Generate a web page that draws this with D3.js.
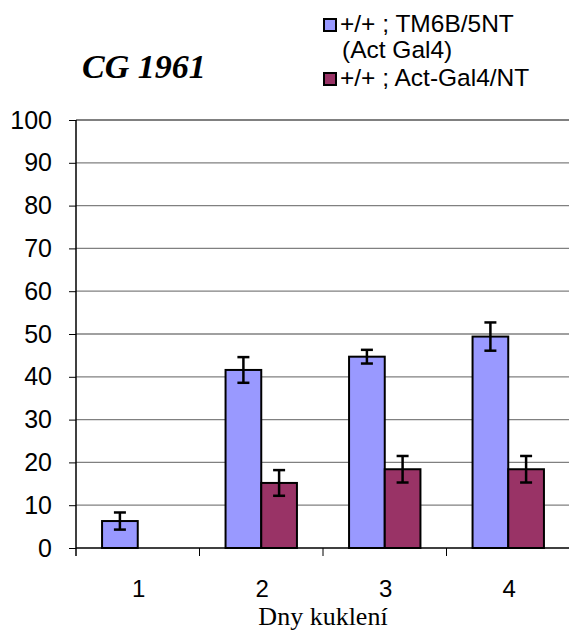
<!DOCTYPE html>
<html>
<head>
<meta charset="utf-8">
<script src="https://cdn.jsdelivr.net/npm/d3@7"></script>
<style>
  body { margin: 0; background: #fff; }
  svg { display: block; }
</style>
</head>
<body>
<div id="chart"></div>
<script>
// data
var days = ["1", "2", "3", "4"];
var seriesNames = ["+/+ ; TM6B/5NT", "+/+ ; Act-Gal4/NT"];
var seriesSub = ["(Act Gal4)", ""];
var controlVals = [6.3, 41.6, 44.7, 49.4];
var controlErr = [2.0, 3.0, 1.6, 3.3];
var mutantVals = [null, 15.2, 18.4, 18.4];
var mutantErr = [null, 3.0, 3.1, 3.1];
var yTicks = [0, 10, 20, 30, 40, 50, 60, 70, 80, 90, 100];
var colors = ["#9999ff", "#993366"];

var width = 569, height = 632;
var plotLeft = 76, plotRight = 570, plotTop = 120, plotBottom = 548;
var sans = "Liberation Sans, Arial, sans-serif";
var serif = "Liberation Serif, Times New Roman, serif";

var svg = d3.select("#chart").append("svg")
  .attr("width", width)
  .attr("height", height);

var y = d3.scaleLinear().domain([0, 100]).range([plotBottom, plotTop]);
var x = d3.scaleBand().domain(days).range([plotLeft, plotRight]).paddingInner(0).paddingOuter(0);
var xs = d3.scaleBand().domain([0, 1]).range([0, x.bandwidth()]).paddingInner(0).paddingOuter(0.73);

// gridlines
svg.append("g").selectAll("line")
  .data(yTicks.filter(function(d) { return d > 0; }))
  .enter().append("line")
  .attr("x1", plotLeft).attr("x2", plotRight)
  .attr("y1", function(d) { return y(d); })
  .attr("y2", function(d) { return y(d); })
  .attr("stroke", "#808080")
  .attr("stroke-width", function(d) { return d == 100 ? 2 : 1.3; });

// y axis
var yAxis = svg.append("g")
  .attr("transform", "translate(" + plotLeft + ",0)")
  .call(d3.axisLeft(y).tickValues(yTicks).tickSize(7).tickPadding(17));
yAxis.select(".domain").remove();
yAxis.selectAll("line").attr("stroke", "#000").attr("stroke-width", 1);
yAxis.selectAll("text")
  .attr("font-family", sans)
  .attr("font-size", 25)
  .attr("fill", "#000");
svg.append("line")
  .attr("x1", plotLeft).attr("x2", plotLeft)
  .attr("y1", plotTop).attr("y2", plotBottom + 8)
  .attr("stroke", "#000").attr("stroke-width", 1.5);

// x axis
svg.append("line")
  .attr("x1", plotLeft).attr("x2", plotRight)
  .attr("y1", plotBottom).attr("y2", plotBottom)
  .attr("stroke", "#000").attr("stroke-width", 1.5);
svg.append("g").selectAll("line")
  .data(days.slice(1))
  .enter().append("line")
  .attr("x1", function(d) { return x(d); })
  .attr("x2", function(d) { return x(d); })
  .attr("y1", plotBottom).attr("y2", plotBottom + 8)
  .attr("stroke", "#000").attr("stroke-width", 1);
svg.append("g").selectAll("text")
  .data(days)
  .enter().append("text")
  .attr("x", function(d) { return x(d) + x.bandwidth() / 2 + 1; })
  .attr("y", 597)
  .attr("text-anchor", "middle")
  .attr("font-family", sans)
  .attr("font-size", 24)
  .text(function(d) { return d; });

svg.append("text")
  .attr("x", 323).attr("y", 625)
  .attr("text-anchor", "middle")
  .attr("font-family", serif)
  .attr("font-size", 26)
  .text("Dny kuklení");

// bars
var rows = [];
days.forEach(function(d, i) {
  rows.push({ day: d, s: 0, v: controlVals[i], e: controlErr[i] });
  rows.push({ day: d, s: 1, v: mutantVals[i], e: mutantErr[i] });
});
rows = rows.filter(function(r) { return r.v != null; });

var bars = svg.append("g");
bars.selectAll("rect")
  .data(rows)
  .enter().append("rect")
  .attr("x", function(r) { return x(r.day) + xs(r.s); })
  .attr("width", xs.bandwidth())
  .attr("y", function(r) { return y(r.v); })
  .attr("height", function(r) { return y(0) - y(r.v); })
  .attr("fill", function(r) { return colors[r.s]; })
  .attr("stroke", "#000")
  .attr("stroke-width", 2);

// error bars
var err = svg.append("g").attr("stroke", "#000").attr("stroke-width", 2.5);
rows.forEach(function(r) {
  var cx = x(r.day) + xs(r.s) + xs.bandwidth() / 2;
  err.append("line").attr("x1", cx).attr("x2", cx)
    .attr("y1", y(r.v + r.e)).attr("y2", y(r.v - r.e));
  [r.v + r.e, r.v - r.e].forEach(function(v) {
    err.append("line").attr("x1", cx - 6).attr("x2", cx + 6)
      .attr("y1", y(v)).attr("y2", y(v));
  });
});

// title
svg.append("text")
  .attr("x", 82).attr("y", 78)
  .attr("font-family", serif)
  .attr("font-size", 34)
  .attr("font-weight", "bold")
  .attr("font-style", "italic")
  .text("CG 1961");

// legend
var legY = [18, 72];
seriesNames.forEach(function(name, i) {
  svg.append("rect")
    .attr("x", 324).attr("y", legY[i] + 1)
    .attr("width", 12).attr("height", 12)
    .attr("fill", colors[i])
    .attr("stroke", "#000").attr("stroke-width", 2);
  svg.append("text")
    .attr("x", 340).attr("y", legY[i] + 14)
    .attr("font-family", sans)
    .attr("font-size", 24.5)
    .text(name);
  if (seriesSub[i]) {
    svg.append("text")
      .attr("x", 342).attr("y", legY[i] + 40)
      .attr("font-family", sans)
      .attr("font-size", 24.5)
      .text(seriesSub[i]);
  }
});
</script>
</body>
</html>
